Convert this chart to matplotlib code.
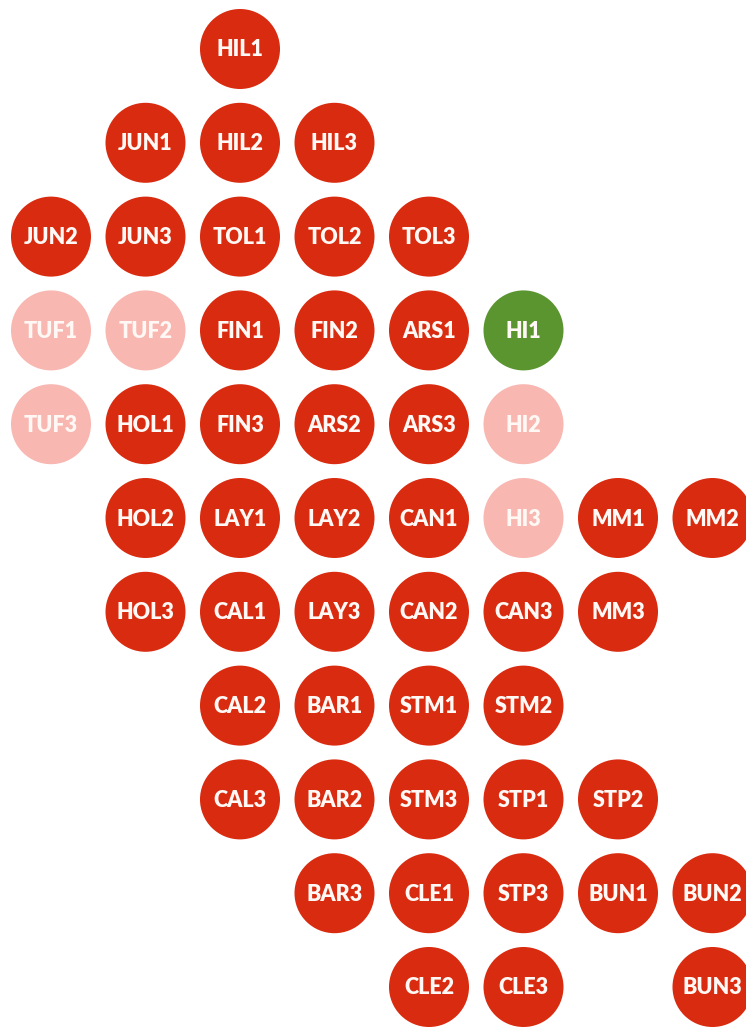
import matplotlib.pyplot as plt
from matplotlib.patches import Circle

# tile map: label, grid column, grid row, status
labels = ["HIL1",
          "JUN1", "HIL2", "HIL3",
          "JUN2", "JUN3", "TOL1", "TOL2", "TOL3",
          "TUF1", "TUF2", "FIN1", "FIN2", "ARS1", "HI1",
          "TUF3", "HOL1", "FIN3", "ARS2", "ARS3", "HI2",
          "HOL2", "LAY1", "LAY2", "CAN1", "HI3", "MM1", "MM2",
          "HOL3", "CAL1", "LAY3", "CAN2", "CAN3", "MM3",
          "CAL2", "BAR1", "STM1", "STM2",
          "CAL3", "BAR2", "STM3", "STP1", "STP2",
          "BAR3", "CLE1", "STP3", "BUN1", "BUN2",
          "CLE2", "CLE3", "BUN3"]
cols = [2,
        1, 2, 3,
        0, 1, 2, 3, 4,
        0, 1, 2, 3, 4, 5,
        0, 1, 2, 3, 4, 5,
        1, 2, 3, 4, 5, 6, 7,
        1, 2, 3, 4, 5, 6,
        2, 3, 4, 5,
        2, 3, 4, 5, 6,
        3, 4, 5, 6, 7,
        4, 5, 7]
rows = [0,
        1, 1, 1,
        2, 2, 2, 2, 2,
        3, 3, 3, 3, 3, 3,
        4, 4, 4, 4, 4, 4,
        5, 5, 5, 5, 5, 5, 5,
        6, 6, 6, 6, 6, 6,
        7, 7, 7, 7,
        8, 8, 8, 8, 8,
        9, 9, 9, 9, 9,
        10, 10, 10]
status = {"TUF1": "light", "TUF2": "light", "TUF3": "light",
          "HI2": "light", "HI3": "light", "HI1": "green"}

colors = {"red": "#D92B10", "light": "#F8B7B1", "green": "#5A952F"}

fig = plt.figure(figsize=(7.46, 10.29), dpi=100)
ax = fig.add_axes([0, 0, 1, 1])
ax.set_xlim(0, 746)
ax.set_ylim(1029, 0)
ax.set_aspect("equal")
ax.axis("off")

x0, dx = 51, 94.5
y0, dy = 49, 93.8
for lab, c, r in zip(labels, cols, rows):
    x = x0 + c * dx
    y = y0 + r * dy
    col = colors[status.get(lab, "red")]
    ax.add_patch(Circle((x, y), 40, facecolor=col, edgecolor="none"))
    ax.text(x, y + 1, lab, ha="center", va="center", color="#FFF8F4",
            fontsize=15.5, fontweight="heavy", family=["Lato", "DejaVu Sans"])

fig.savefig("out.png", dpi=100)
